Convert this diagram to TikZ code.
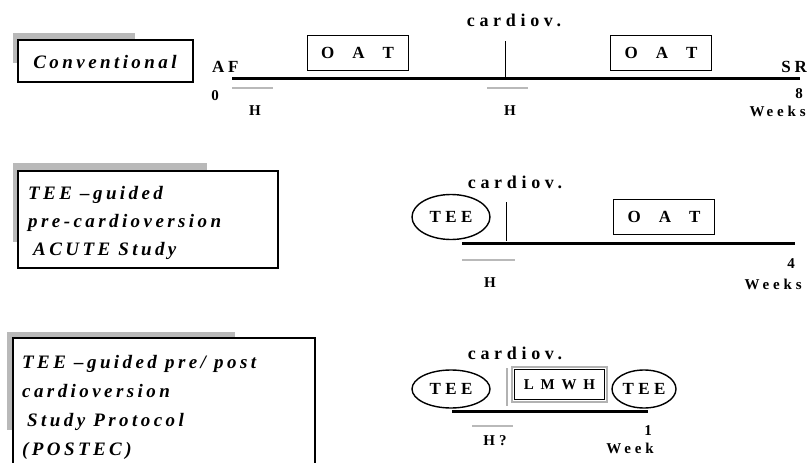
\documentclass[tikz,border=0pt]{standalone}
\usepackage{fontspec}
\setmainfont{Liberation Serif}
\newfontfamily\lsfont[LetterSpace=22]{Liberation Serif}
\newfontfamily\lsital[LetterSpace=18]{Liberation Serif}
\newfontfamily\lswide[LetterSpace=26]{Liberation Serif}
\newfontfamily\lsxwide[LetterSpace=45]{Liberation Serif}
\usetikzlibrary{shapes.geometric}
\tikzset{
  lbl/.style={font={\lsfont\bfseries\fontsize{17}{19}\selectfont},inner sep=0pt},
  cvlbl/.style={font={\lswide\bfseries\fontsize{18}{20}\selectfont},inner sep=0pt},
  small/.style={font={\lswide\bfseries\fontsize{15}{17}\selectfont},inner sep=0pt},
  ital/.style={font={\lsital\bfseries\itshape\fontsize{19}{28}\selectfont},inner sep=0pt,align=left},
  ital29/.style={font={\lsital\bfseries\itshape\fontsize{19}{29}\selectfont},inner sep=0pt,align=left},
  timeline/.style={line width=3pt},
  tickline/.style={line width=1pt},
  hbar/.style={gray!55,line width=2pt},
  oatbox/.style={draw,line width=1pt,minimum width=101pt,minimum height=35pt,inner sep=0pt,
     font={\bfseries\fontsize{17}{19}\selectfont}},
  tee/.style={draw,ellipse,line width=1.4pt,inner sep=0pt,font={\lswide\bfseries\fontsize{17}{19}\selectfont}},
  shadow/.style={fill=gray!55},
  titlebox/.style={draw,fill=white,line width=1.6pt}
}
\begin{document}
\begin{tikzpicture}[x=1pt,y=-1pt]
\useasboundingbox[fill=white] (0,0) rectangle (807,463);
% ---------- Row 1 : Conventional ----------
\fill[shadow] (13,33) rectangle (135,63);
\draw[titlebox] (18,40) rectangle (193,82);
\node[ital] (conv) at (105,62) {Conventional};
\coordinate (a1) at (232,78);
\coordinate (b1) at (800,78);
\draw[timeline] (a1) -- (b1);
\node[lbl,anchor=base west] (af) at (212,72) {AF};
\node[lbl,anchor=base east] (sr) at (807,72) {SR};
\node[cvlbl] (cv1) at (514,20) {cardiov.};
\coordinate (k1t) at (505,41);
\coordinate (k1b) at (505,78);
\draw[tickline] (k1t) -- (k1b);
\node[oatbox] (oat1) at (357.5,52.5) {O\hspace{18pt}A\hspace{18pt}T};
\node[oatbox] (oat2) at (661,53) {O\hspace{18pt}A\hspace{18pt}T};
\coordinate (h1a) at (232,88); \coordinate (h1b) at (273,88);
\draw[hbar] (h1a) -- (h1b);
\coordinate (h2a) at (487,88); \coordinate (h2b) at (528,88);
\draw[hbar] (h2a) -- (h2b);
\node[small] (zero) at (215,96) {0};
\node[small] (hA) at (255,111) {H};
\node[small] (hB) at (510,111) {H};
\node[small] (eight) at (799,94) {8};
\node[small,anchor=east] (wk1) at (806,111) {W\hspace{2pt}eeks};
% ---------- Row 2 : ACUTE ----------
\fill[shadow] (13,163) rectangle (207,242);
\draw[titlebox] (18,171) rectangle (278,268);
\node[ital,anchor=north west] (acute) at (28,186) {TEE –guided\\pre-cardioversion\\\hspace{5pt}ACUTE Study};
\node[cvlbl] (cv2) at (515,182) {cardiov.};
\node[tee,minimum width=78pt,minimum height=45pt] (tee2) at (451,217) {TEE};
\coordinate (k2t) at (506,202);
\coordinate (k2b) at (506,241);
\draw[tickline] (k2t) -- (k2b);
\coordinate (a2) at (462,243);
\coordinate (b2) at (795,243);
\draw[timeline] (a2) -- (b2);
\node[oatbox] (oat3) at (664,216.5) {O\hspace{18pt}A\hspace{18pt}T};
\coordinate (h3a) at (462,260); \coordinate (h3b) at (515,260);
\draw[hbar] (h3a) -- (h3b);
\node[small] (hC) at (490,283) {H};
\node[small] (four) at (791,264) {4};
\node[small,anchor=east] (wk2) at (802,284) {W\hspace{3pt}eeks};
% ---------- Row 3 : POSTEC ----------
\fill[shadow] (7,332) rectangle (235,430);
\fill[white] (13,338) rectangle (315,470);
\draw[line width=1.6pt] (13,470) -- (13,338) -- (315,338) -- (315,470);
\node[ital29,anchor=north west] (postec) at (22,355) {TEE –guided pre/ post\\cardioversion\\\hspace{5pt}Study Protocol\\(POSTEC)};
\node[cvlbl] (cv3) at (515,353) {cardiov.};
\node[tee,minimum width=78pt,minimum height=38pt] (tee3) at (451,389) {TEE};
\coordinate (k3t) at (507,368);
\coordinate (k3b) at (507,406);
\draw[gray!60,line width=2pt] (k3t) -- (k3b);
\node[draw=gray!60,line width=1.5pt,minimum width=95pt,minimum height=35pt,inner sep=0pt,
  font={\lsxwide\bfseries\fontsize{15}{17}\selectfont}] (lmwh) at (559.5,384.5) {LMWH};
\draw[line width=0.6pt] ([shift={(3,3)}]lmwh.north west) rectangle ([shift={(-3,-3)}]lmwh.south east);
\node[tee,minimum width=64pt,minimum height=38pt] (tee4) at (644,389) {TEE};
\coordinate (a3) at (452,411);
\coordinate (b3) at (648,411);
\draw[timeline] (a3) -- (b3);
\coordinate (h4a) at (472,426); \coordinate (h4b) at (513,426);
\draw[hbar] (h4a) -- (h4b);
\node[small] (hq) at (495,441) {H?};
\node[small] (one) at (648,431) {1};
\node[small] (wk3) at (630,448) {W\hspace{3pt}eek};
\end{tikzpicture}
\end{document}
